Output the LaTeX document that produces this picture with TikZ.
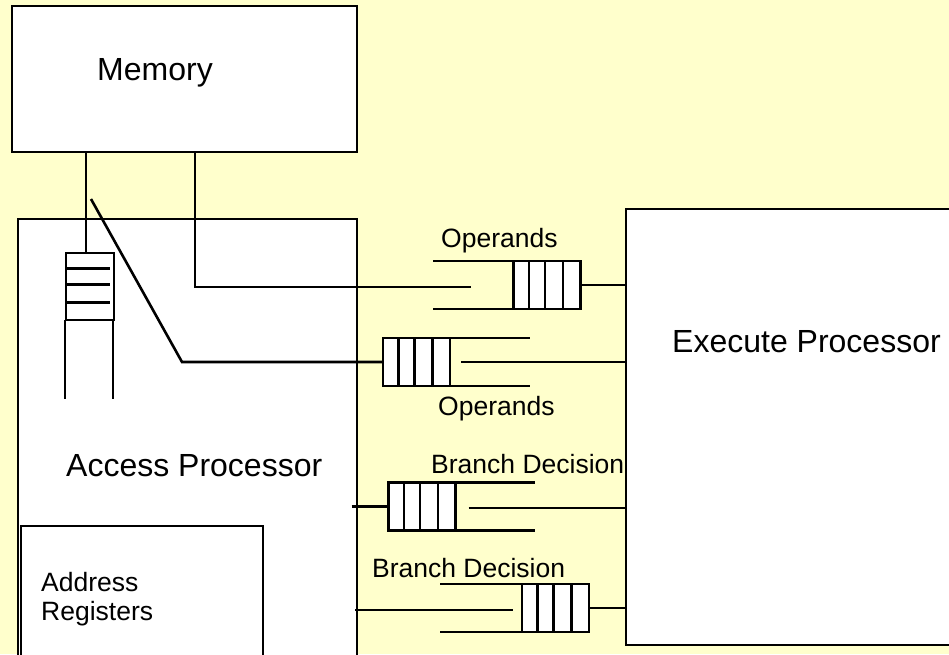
\documentclass[tikz,border=0pt]{standalone}
\usepackage{fontspec}
\setmainfont{Liberation Sans}
\usepackage{tikz}
\usetikzlibrary{calc}
\definecolor{paper}{HTML}{FFFFCC}
\definecolor{ink}{HTML}{000000}
\tikzset{
  every node/.style={text=ink},
  unit/.style={draw=ink,line width=2.6pt,fill=white,anchor=north west,inner sep=0pt,outer sep=0pt},
  bigtext/.style={font=\fontsize{32}{38}\selectfont,inner sep=0pt,anchor=base west},
  smalltext/.style={font=\fontsize{26.5}{29}\selectfont,inner sep=0pt,anchor=base west,align=left},
  queue/.style={draw=ink,line width=2.6pt,fill=white,inner sep=0pt,outer sep=0pt,
    minimum width=67pt,minimum height=48pt,
    path picture={
      \foreach \f in {0.23,0.47,0.74}
        \draw[line width=2.6pt] ($(path picture bounding box.north west)!\f!(path picture bounding box.north east)$)
          -- ($(path picture bounding box.south west)!\f!(path picture bounding box.south east)$);}},
  vqueue/.style={draw=ink,line width=2.6pt,fill=white,inner sep=0pt,outer sep=0pt,
    minimum width=48pt,minimum height=67pt,
    path picture={
      \foreach \f in {0.23,0.47,0.74}
        \draw[line width=2.6pt] ($(path picture bounding box.north west)!\f!(path picture bounding box.south west)$)
          -- ($(path picture bounding box.north east)!\f!(path picture bounding box.south east)+(-4,0)$);}},
  wire/.style={draw=ink,line width=2.6pt}
}
\begin{document}
\begin{tikzpicture}[x=1pt,y=-1pt]
  \clip (0,0) rectangle (949,654);
  \fill[paper] (0,0) rectangle (949,654);

  % boxes
  \node[unit,minimum width=345pt,minimum height=146pt] (mem) at (12,6) {};
  \node[unit,minimum width=339pt,minimum height=445pt] (acc) at (18,219) {};
  \node[unit,minimum width=242pt,minimum height=140pt] (areg) at (21,526) {};
  \node[unit,minimum width=330pt,minimum height=436pt] (exe) at (626,209) {};

  \node[bigtext] (memtxt) at (97,80) {Memory};
  \node[bigtext] (acctxt) at (66,476) {Access Processor};
  \node[bigtext] (exetxt) at (672,352) {Execute Processor};
  \node[smalltext] (aregtxt) at (41,620) {Address\\Registers};

  % queues
  \node[vqueue] (memq) at (90,286.5) {};
  \node[queue] (opA) at (547,285) {};
  \node[queue] (opB) at (416.5,362) {};
  \node[queue] (brC) at (422,506.5) {};
  \node[queue] (brD) at (555.5,608) {};

  \node[smalltext] (opAtxt) at (441,247) {Operands};
  \node[smalltext] (opBtxt) at (438,415) {Operands};
  \node[smalltext] (brCtxt) at (431,473) {Branch Decision};
  \node[smalltext] (brDtxt) at (372,577) {Branch Decision};

  % memory side
  \draw[wire] ([xshift=-4pt]memq.north |- mem.south) -- ([xshift=-4pt]memq.north);
  \draw[wire] ([xshift=-1pt]memq.south west) -- ++(0,79);
  \draw[wire] ([xshift=-1pt]memq.south east) -- ++(0,79);
  \draw[wire] ([xshift=183pt]mem.south west) |- ($(opA.west)+(-43,2)$);
  \coordinate (tap) at (91,199);
  \draw[wire] (tap) -- (182,362) -- (opB.west);

  % operand queues
  \draw[wire] (opA.north west) -- ++(-81,0);
  \draw[wire] (opA.south west) -- ++(-81,0);
  \draw[wire] (opA.east) -- (opA.east -| exe.west);
  \draw[wire] (opB.north east) -- ++(80,0);
  \draw[wire] (opB.south east) -- ++(80,0);
  \draw[wire] ($(opB.east)+(11,0)$) -- (opB.east -| exe.west);

  % branch queues
  \draw[wire] (brC.north east) -- ++(79,0);
  \draw[wire] (brC.south east) -- ++(79,0);
  \draw[wire] ($(brC.east)+(13,1.5)$) -- ($(brC.east -| exe.west)+(0,1.5)$);
  \draw[wire] ($(brC.west)+(-37,0)$) -- (brC.west);
  \draw[wire] (brD.north west) -- ++(-82,0);
  \draw[wire] (brD.south west) -- ++(-82,0);
  \draw[wire] ($(acc.east |- brD.west)+(-2,2)$) -- ($(brD.west)+(-9,2)$);
  \draw[wire] (brD.east) -- (brD.east -| exe.west);
\end{tikzpicture}
\end{document}
